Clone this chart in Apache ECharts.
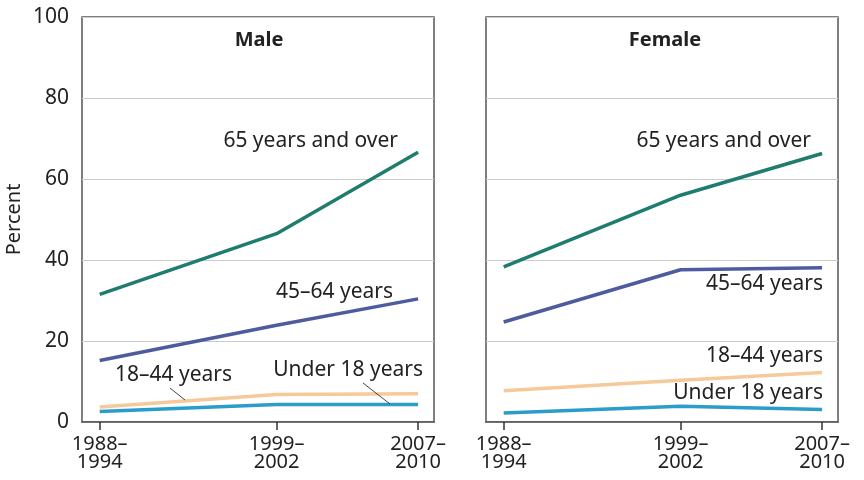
<!DOCTYPE html>
<html>
<head>
<meta charset="utf-8">
<script src="https://cdn.jsdelivr.net/npm/echarts@6/dist/echarts.min.js"></script>
<style>
  html, body { margin: 0; padding: 0; background: #fff; }
  #chart { width: 864px; height: 480px; }
</style>
</head>
<body>
<div id="chart"></div>
<script>
var chart = echarts.init(document.getElementById('chart'));

// survey periods, placed at their approximate midpoints on the x axis
var periods = ['1988–\n1994', '1999–\n2002', '2007–\n2010'];
var periodPos = [1991, 2001, 2009];

var groups = ['65 years and over', '45–64 years', '18–44 years', 'Under 18 years'];
var colors = ['#1e7d6e', '#4f5b9f', '#f6c99a', '#2a9dcc'];

// percent
var male65 = [31.5, 46.5, 66.6];
var male45 = [15.2, 23.9, 30.4];
var male18 = [3.7, 6.8, 7.0];
var maleU18 = [2.6, 4.3, 4.3];

var female65 = [38.3, 56.0, 66.3];
var female45 = [24.7, 37.6, 38.1];
var female18 = [7.7, 10.3, 12.2];
var femaleU18 = [2.2, 3.9, 3.1];

var font = 'Noto Sans';
var maleData = [male65, male45, male18, maleU18];
var femaleData = [female65, female45, female18, femaleU18];

function pairs(vals) {
    return vals.map(function (v, i) { return [periodPos[i], v]; });
}

function xAxis(idx) {
    return {
        gridIndex: idx,
        type: 'value',
        min: 1990,
        max: 2009.9,
        splitLine: { show: false },
        axisLine: { show: true, lineStyle: { color: '#555', width: 1.5 } },
        axisTick: { show: true, customValues: periodPos, length: 8, lineStyle: { color: '#333', width: 1.5 } },
        axisLabel: {
            customValues: periodPos,
            color: '#222',
            fontFamily: font,
            fontSize: 20,
            lineHeight: 18,
            margin: 13,
            formatter: function (v) { return periods[periodPos.indexOf(v)]; }
        }
    };
}

function yAxis(idx, showLabels) {
    return {
        gridIndex: idx,
        type: 'value',
        min: 0,
        max: 100,
        interval: 20,
        name: showLabels ? 'Percent' : '',
        nameLocation: 'middle',
        nameGap: 58,
        nameTextStyle: { color: '#222', fontFamily: font, fontSize: 20 },
        axisLine: { show: false },
        axisTick: { show: false },
        axisLabel: { show: showLabels, color: '#222', fontFamily: font, fontSize: 21, margin: 13 },
        splitLine: { show: true, lineStyle: { color: '#ccc', width: 1 } }
    };
}

var series = [];
[maleData, femaleData].forEach(function (set, g) {
    set.forEach(function (vals, k) {
        series.push({
            type: 'line',
            name: groups[k],
            xAxisIndex: g,
            yAxisIndex: g,
            data: pairs(vals),
            symbol: 'none',
            z: 10 - k,
            lineStyle: { color: colors[k], width: 3.5 },
            itemStyle: { color: colors[k] }
        });
    });
});

function label(text, x, y, align, bold) {
    return {
        type: 'text',
        x: x, y: y,
        style: {
            text: text,
            fill: '#222',
            font: (bold ? 'bold 20px ' : '21px ') + '"' + font + '"',
            align: align || 'left',
            verticalAlign: 'middle'
        }
    };
}

function leader(x1, y1, x2, y2) {
    return {
        type: 'line',
        shape: { x1: x1, y1: y1, x2: x2, y2: y2 },
        style: { stroke: '#444', lineWidth: 1 },
        z: 20
    };
}

var option = {
    animation: false,
    grid: [
        { left: 82, top: 17, width: 352, height: 405, show: true, borderColor: '#555', borderWidth: 1.5, backgroundColor: 'transparent' },
        { left: 486, top: 17, width: 352, height: 405, show: true, borderColor: '#555', borderWidth: 1.5, backgroundColor: 'transparent' }
    ],
    xAxis: [xAxis(0), xAxis(1)],
    yAxis: [yAxis(0, true), yAxis(1, false)],
    series: series,
    graphic: [
        label('Male', 259, 40, 'center', true),
        label('Female', 665, 40, 'center', true),
        label('65 years and over', 398, 141, 'right'),
        label('45–64 years', 393, 292, 'right'),
        label('18–44 years', 115, 375, 'left'),
        label('Under 18 years', 423, 370, 'right'),
        leader(170, 388, 185, 400),
        leader(363, 383, 390, 404),
        label('65 years and over', 811, 141, 'right'),
        label('45–64 years', 823, 284, 'right'),
        label('18–44 years', 823, 356, 'right'),
        label('Under 18 years', 823, 393, 'right')
    ]
};

chart.setOption(option);
window.onresize = chart.resize;
</script>
</body>
</html>
